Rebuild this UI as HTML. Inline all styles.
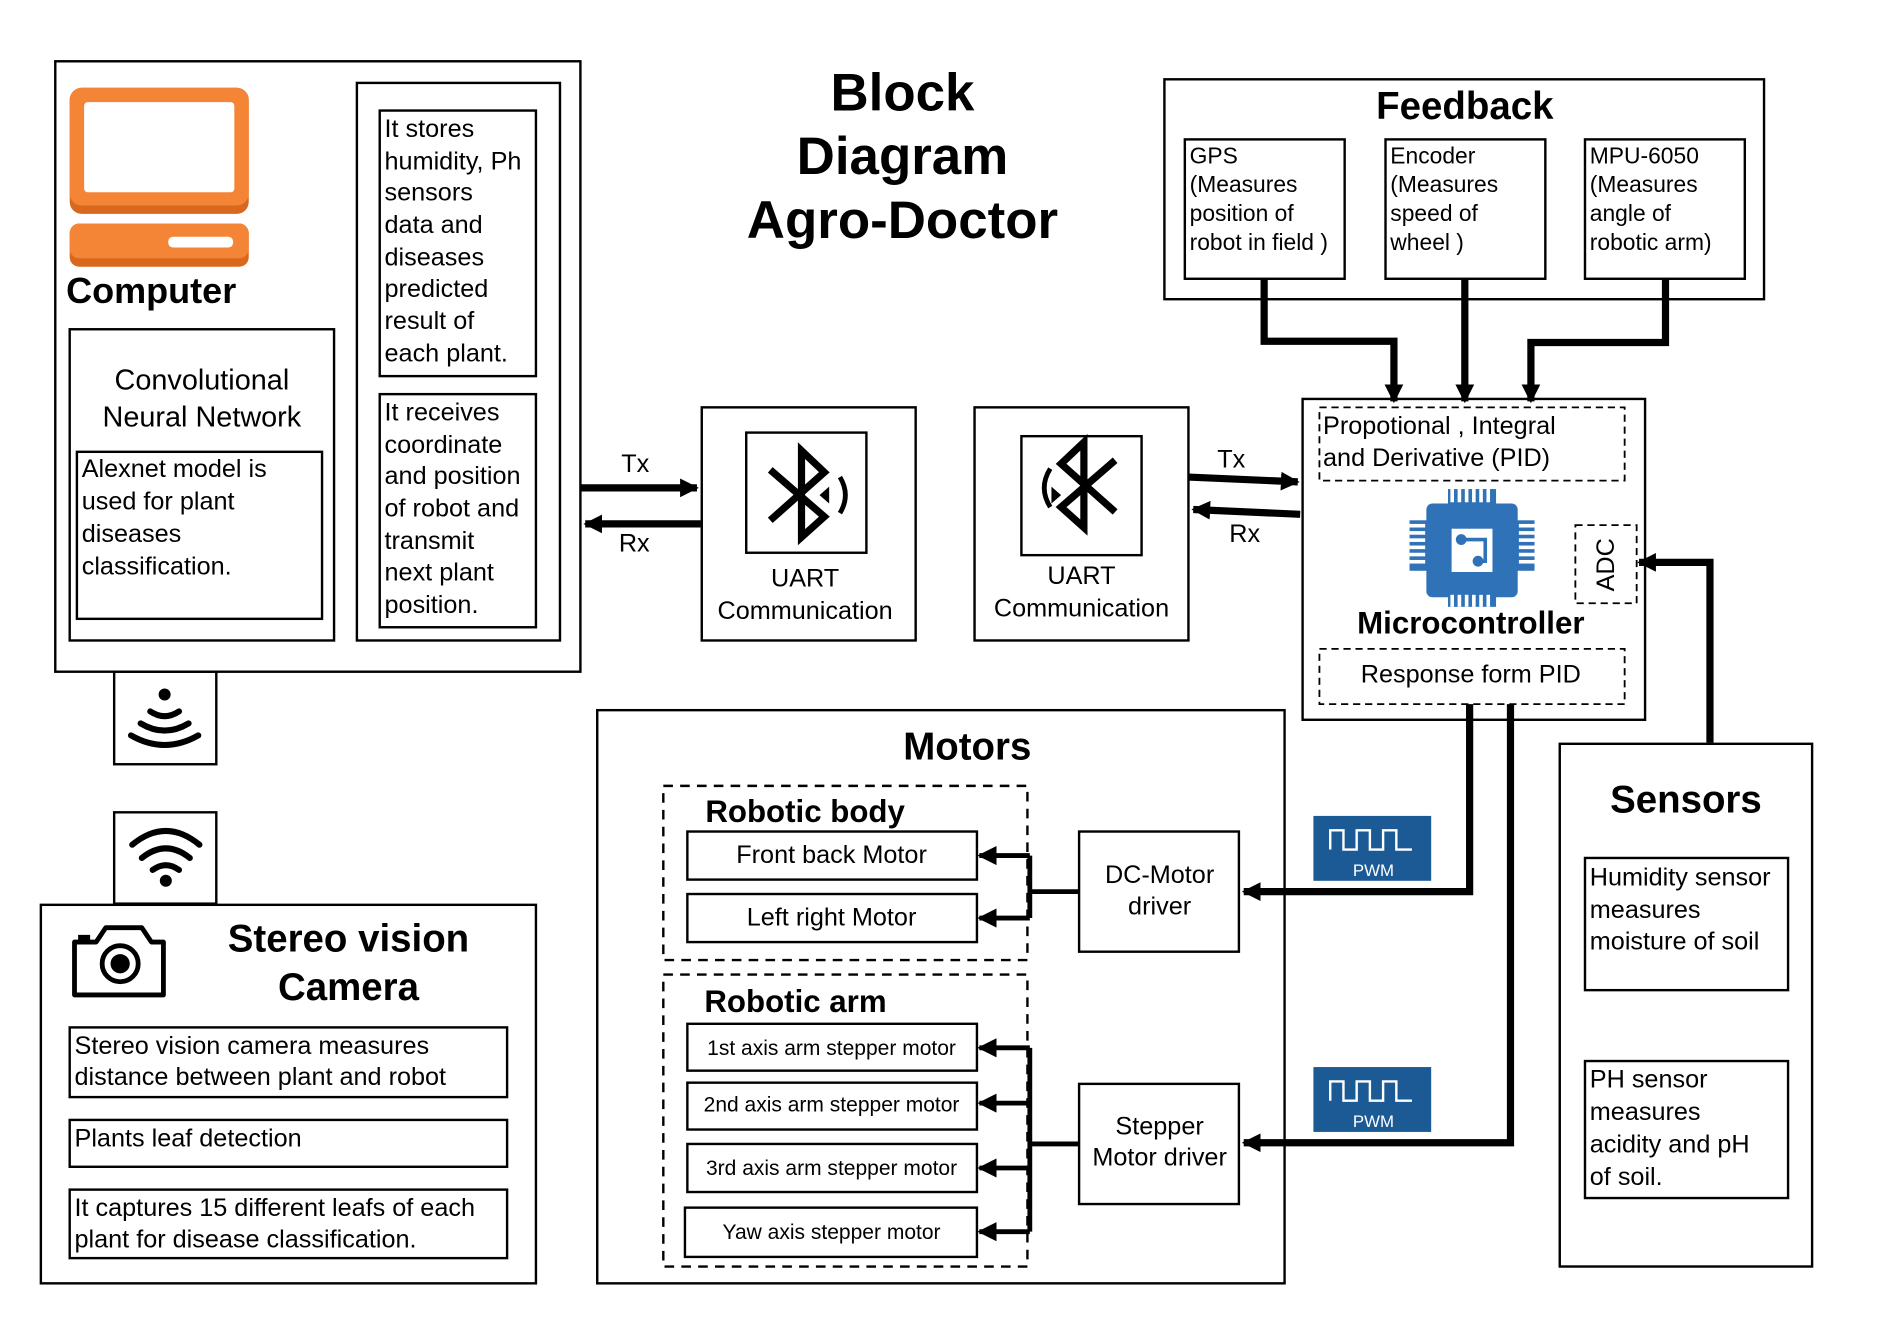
<!DOCTYPE html>
<html><head><meta charset="utf-8"><style>
html,body{margin:0;padding:0;background:#fff}
svg{display:block}
text{font-family:"Liberation Sans",sans-serif;fill:#000}
.b{font-weight:bold}
</style></head><body>
<svg width="1883" height="1323" viewBox="0 0 1567 1101" preserveAspectRatio="none" xmlns="http://www.w3.org/2000/svg">
<defs>
<marker id="ah" viewBox="0 0 10 10" refX="9" refY="5" markerWidth="2.6" markerHeight="2.6" orient="auto" markerUnits="strokeWidth"><path d="M0,0 L10,5 L0,10 z" fill="#000"/></marker>
<marker id="as" viewBox="0 0 10 10" refX="9" refY="5" markerWidth="4" markerHeight="4" orient="auto" markerUnits="strokeWidth"><path d="M0,0 L10,5 L0,10 z" fill="#000"/></marker>
</defs>
<rect width="1567" height="1101" fill="#fff"/>
<g fill="none" stroke="#000" stroke-width="2">
<rect x="46" y="51" width="437" height="508"/>
<rect x="58" y="274" width="220" height="259"/>
<rect x="64" y="376" width="204" height="139"/>
<rect x="297" y="69" width="169" height="464"/>
<rect x="316" y="92" width="130" height="221"/>
<rect x="316" y="328" width="130" height="194"/>
<rect x="95" y="559" width="85" height="77"/>
<rect x="95" y="676" width="85" height="76"/>
<rect x="34" y="753" width="412" height="315"/>
<rect x="58" y="855" width="364" height="58"/>
<rect x="58" y="932" width="364" height="39"/>
<rect x="58" y="990" width="364" height="57"/>
<rect x="584" y="339" width="178" height="194"/>
<rect x="621" y="360" width="100" height="100"/>
<rect x="811" y="339" width="178" height="194"/>
<rect x="850" y="363" width="100" height="99"/>
<rect x="969" y="66" width="499" height="183"/>
<rect x="986" y="116" width="133" height="116"/>
<rect x="1153" y="116" width="133" height="116"/>
<rect x="1319" y="116" width="133" height="116"/>
<rect x="1084" y="332" width="285" height="267"/>
<rect x="1298" y="619" width="210" height="435"/>
<rect x="1319" y="714" width="169" height="110"/>
<rect x="1319" y="883" width="169" height="114"/>
<rect x="497" y="591" width="572" height="477"/>
<rect x="572" y="692" width="241" height="40"/>
<rect x="572" y="744" width="241" height="40"/>
<rect x="898" y="692" width="133" height="100"/>
<rect x="572" y="852" width="241" height="39"/>
<rect x="572" y="901" width="241" height="39"/>
<rect x="572" y="952" width="241" height="40"/>
<rect x="570" y="1005" width="243" height="41"/>
<rect x="898" y="902" width="133" height="100"/>
</g>
<g fill="none" stroke="#000" stroke-width="2" stroke-dasharray="8,6">
<rect x="552" y="654" width="303" height="145"/>
<rect x="552" y="811" width="303" height="243"/>
</g>
<g fill="none" stroke="#000" stroke-width="1.5" stroke-dasharray="6,4">
<rect x="1098" y="339" width="254" height="61"/>
<rect x="1311" y="437" width="51" height="65"/>
<rect x="1098" y="540" width="254" height="46"/>
</g>

<rect x="58" y="73" width="149" height="105" rx="10" fill="#d9671e"/>
<rect x="58" y="73" width="149" height="98" rx="10" fill="#f58536"/>
<rect x="70" y="85" width="125" height="75" rx="3" fill="#fff"/>
<rect x="58" y="186" width="149" height="36" rx="8" fill="#d9671e"/>
<rect x="58" y="186" width="149" height="29" rx="8" fill="#f58536"/>
<rect x="140" y="197" width="54" height="9" rx="4" fill="#fff"/>

<g fill="none" stroke="#000" stroke-width="5" stroke-linecap="round">
<circle cx="137" cy="578" r="5" fill="#000" stroke="none"/>
<path d="M125,592 Q137,600 149,592"/><path d="M117,602 Q137,614 157,602"/><path d="M109,612 Q137,628 165,612"/>
<path d="M110,703 Q138,680 166,703"/><path d="M118,714 Q138,698 158,714"/><path d="M127,724 Q138,716 149,724"/>
<circle cx="138" cy="733" r="5" fill="#000" stroke="none"/>
</g>
<g fill="none" stroke="#000" stroke-width="4">
<path d="M62,784 h18 l8,-12 h30 l8,12 h10 v44 h-74 z" stroke-linejoin="round"/>
<circle cx="100" cy="802" r="15"/>
<circle cx="100" cy="802" r="6" fill="#000"/>
</g>
<rect x="65" y="778" width="10" height="5" fill="#000"/>

<g fill="none" stroke="#000" stroke-width="6">
<path d="M641,391 L686,430 L667,447 L667,375 L686,393 L641,433"/>
<path d="M699,397 Q708,412 699,427" stroke-width="4"/>
<path d="M928,383 L883,422 L902,439 L902,368 L883,386 L928,426"/>
<path d="M874,390 Q864,406 874,422" stroke-width="4"/>
</g>
<path d="M690,405 L682,412 L690,419 z" fill="#000"/>
<path d="M875,405 L883,412 L875,419 z" fill="#000"/>

<g fill="#2f72b8">
<rect x="1187" y="419" width="76" height="78" rx="5"/>
<rect x="1205" y="407" width="40" height="98"/>
<rect x="1173" y="433" width="104" height="42"/>
</g>
<g fill="#fff">
<rect x="1207" y="407" width="3" height="11"/><rect x="1213" y="407" width="3" height="11"/><rect x="1219" y="407" width="3" height="11"/><rect x="1225" y="407" width="3" height="11"/><rect x="1231" y="407" width="3" height="11"/><rect x="1237" y="407" width="3" height="11"/>
<rect x="1207" y="495" width="3" height="10"/><rect x="1213" y="495" width="3" height="10"/><rect x="1219" y="495" width="3" height="10"/><rect x="1225" y="495" width="3" height="10"/><rect x="1231" y="495" width="3" height="10"/><rect x="1237" y="495" width="3" height="10"/>
<rect x="1173" y="436" width="13" height="3"/><rect x="1173" y="442" width="13" height="3"/><rect x="1173" y="448" width="13" height="3"/><rect x="1173" y="454" width="13" height="3"/><rect x="1173" y="460" width="13" height="3"/><rect x="1173" y="466" width="13" height="3"/>
<rect x="1264" y="436" width="13" height="3"/><rect x="1264" y="442" width="13" height="3"/><rect x="1264" y="448" width="13" height="3"/><rect x="1264" y="454" width="13" height="3"/><rect x="1264" y="460" width="13" height="3"/><rect x="1264" y="466" width="13" height="3"/>
<rect x="1208" y="440" width="34" height="36"/>
</g>
<g stroke="#2f72b8" stroke-width="3" fill="#2f72b8"><path d="M1216,449 H1236 V467 H1230" fill="none"/><circle cx="1216" cy="449" r="3"/><circle cx="1230" cy="467" r="3"/></g>

<g>
<rect x="1093" y="679" width="98" height="54" fill="#1c5a96"/>
<rect x="1093" y="888" width="98" height="54" fill="#1c5a96"/>
<path d="M1107,707 V691 H1118 V707 H1129 V691 H1140 V707 H1151 V691 H1162 V707 H1175" fill="none" stroke="#fff" stroke-width="2"/>
<path d="M1107,916 V900 H1118 V916 H1129 V900 H1140 V916 H1151 V900 H1162 V916 H1175" fill="none" stroke="#fff" stroke-width="2"/>
<text x="1143" y="729" text-anchor="middle" font-size="14" style="fill:#fff">PWM</text>
<text x="1143" y="938" text-anchor="middle" font-size="14" style="fill:#fff">PWM</text>
</g>

<g fill="none" stroke="#000" stroke-width="6">
<line x1="483" y1="406" x2="580" y2="406" marker-end="url(#ah)"/>
<line x1="583" y1="436" x2="487" y2="436" marker-end="url(#ah)"/>
<line x1="989" y1="397" x2="1080" y2="401" marker-end="url(#ah)"/>
<line x1="1082" y1="428" x2="993" y2="424" marker-end="url(#ah)"/>
<path d="M1052,232 V284 H1160 V334" marker-end="url(#ah)"/>
<path d="M1219,232 V334" marker-end="url(#ah)"/>
<path d="M1386,232 V285 H1274 V334" marker-end="url(#ah)"/>
<path d="M1423,618 V468 H1364" marker-end="url(#ah)"/>
<path d="M1223,586 V742 H1035" marker-end="url(#ah)"/>
<path d="M1257,586 V951 H1035" marker-end="url(#ah)"/>
</g>
<g fill="none" stroke="#000" stroke-width="4">
<path d="M898,742 H857"/>
<path d="M857,712 V764"/>
<line x1="857" y1="712" x2="815" y2="712" marker-end="url(#as)"/>
<line x1="857" y1="764" x2="815" y2="764" marker-end="url(#as)"/>
<path d="M898,952 H857"/>
<path d="M857,872 V1025"/>
<line x1="857" y1="872" x2="815" y2="872" marker-end="url(#as)"/>
<line x1="857" y1="918" x2="815" y2="918" marker-end="url(#as)"/>
<line x1="857" y1="972" x2="815" y2="972" marker-end="url(#as)"/>
<line x1="857" y1="1025" x2="815" y2="1025" marker-end="url(#as)"/>
</g>

<text x="55" y="252" font-size="30" class="b">Computer</text>
<text x="168" y="324" font-size="24" text-anchor="middle">Convolutional</text>
<text x="168" y="355" font-size="24" text-anchor="middle">Neural Network</text>
<g font-size="21">
<text x="68" y="397">Alexnet model is</text><text x="68" y="424">used for plant</text><text x="68" y="451">diseases</text><text x="68" y="478">classification.</text>
<text x="320" y="114">It stores</text><text x="320" y="141">humidity, Ph</text><text x="320" y="167">sensors</text><text x="320" y="194">data and</text><text x="320" y="221">diseases</text><text x="320" y="247">predicted</text><text x="320" y="274">result of</text><text x="320" y="301">each plant.</text>
<text x="320" y="350">It receives</text><text x="320" y="377">coordinate</text><text x="320" y="403">and position</text><text x="320" y="430">of robot and</text><text x="320" y="457">transmit</text><text x="320" y="483">next plant</text><text x="320" y="510">position.</text>
<text x="62" y="877">Stereo vision camera measures</text><text x="62" y="903">distance between plant and robot</text>
<text x="62" y="954">Plants leaf detection</text>
<text x="62" y="1012">It captures 15 different leafs of each</text><text x="62" y="1038">plant for disease classification.</text>
<text x="670" y="488" text-anchor="middle">UART</text><text x="670" y="515" text-anchor="middle">Communication</text>
<text x="900" y="486" text-anchor="middle">UART</text><text x="900" y="513" text-anchor="middle">Communication</text>
<text x="517" y="393">Tx</text><text x="515" y="459">Rx</text>
<text x="1013" y="389">Tx</text><text x="1023" y="451">Rx</text>
<text x="1101" y="361">Propotional , Integral</text><text x="1101" y="388">and Derivative (PID)</text>
<text x="1224" y="568" text-anchor="middle">Response form PID</text>
<text x="1323" y="737">Humidity sensor</text><text x="1323" y="764">measures</text><text x="1323" y="790">moisture of soil</text>
<text x="1323" y="905">PH sensor</text><text x="1323" y="932">measures</text><text x="1323" y="959">acidity and pH</text><text x="1323" y="986">of  soil.</text>
<text x="692" y="718" text-anchor="middle">Front back Motor</text>
<text x="692" y="770" text-anchor="middle">Left right Motor</text>
<text x="965" y="735" text-anchor="middle">DC-Motor</text><text x="965" y="761" text-anchor="middle">driver</text>
<text x="965" y="944" text-anchor="middle">Stepper</text><text x="965" y="970" text-anchor="middle">Motor driver</text>
</g>
<g font-size="19">
<text x="990" y="136">GPS</text><text x="990" y="160">(Measures</text><text x="990" y="184">position of</text><text x="990" y="208">robot in field )</text>
<text x="1157" y="136">Encoder</text><text x="1157" y="160">(Measures</text><text x="1157" y="184">speed of</text><text x="1157" y="208">wheel )</text>
<text x="1323" y="136">MPU-6050</text><text x="1323" y="160">(Measures</text><text x="1323" y="184">angle of</text><text x="1323" y="208">robotic arm)</text>
</g>
<g font-size="17.5" text-anchor="middle">
<text x="692" y="878">1st axis arm stepper motor</text>
<text x="692" y="925">2nd axis arm stepper motor</text>
<text x="692" y="978">3rd axis arm stepper motor</text>
<text x="692" y="1031">Yaw axis stepper motor</text>
</g>
<text x="1343" y="470" font-size="21" text-anchor="middle" transform="rotate(-90 1343 470)">ADC</text>
<text x="1224" y="527" font-size="26" class="b" text-anchor="middle">Microcontroller</text>
<text x="751" y="92" font-size="44" class="b" text-anchor="middle">Block</text>
<text x="751" y="145" font-size="44" class="b" text-anchor="middle">Diagram</text>
<text x="751" y="198" font-size="44" class="b" text-anchor="middle">Agro-Doctor</text>
<text x="1219" y="99" font-size="32" class="b" text-anchor="middle">Feedback</text>
<text x="1403" y="676" font-size="32" class="b" text-anchor="middle">Sensors</text>
<text x="805" y="632" font-size="32" class="b" text-anchor="middle">Motors</text>
<text x="670" y="684" font-size="26" class="b" text-anchor="middle">Robotic body</text>
<text x="662" y="842" font-size="26" class="b" text-anchor="middle">Robotic arm</text>
<text x="290" y="792" font-size="32" class="b" text-anchor="middle">Stereo vision</text>
<text x="290" y="832" font-size="32" class="b" text-anchor="middle">Camera</text>
</svg>
</body></html>
